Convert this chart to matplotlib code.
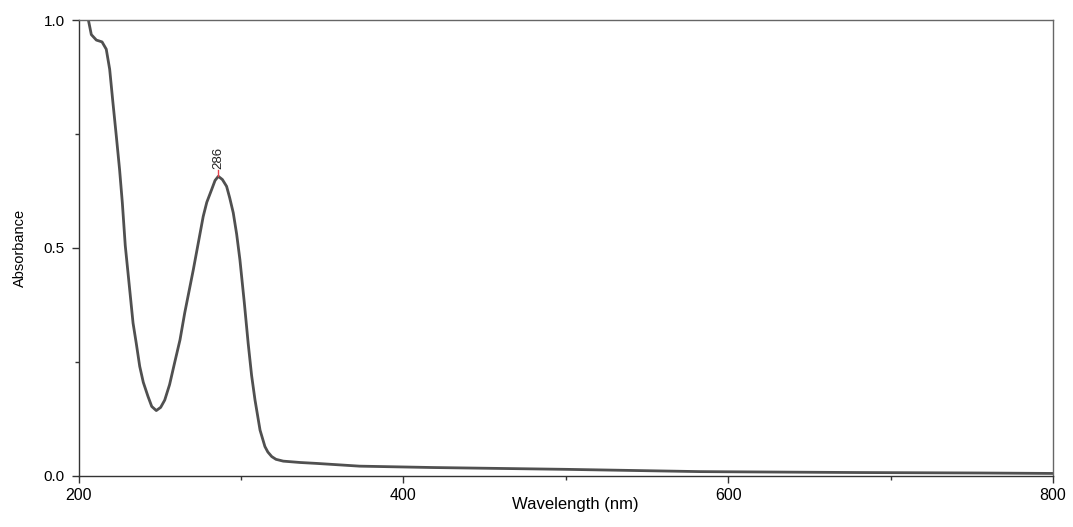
import matplotlib.pyplot as plt
from matplotlib.ticker import MultipleLocator

plt.rcParams['font.family'] = ['Liberation Sans', 'DejaVu Sans']

# wavelength (nm) and absorbance
wavelength = [203, 206, 207.8, 210.9, 214.4, 217, 219.1, 221.1, 223.2, 225.2,
              226.9, 228.7, 230.4, 233.5, 235.5, 237.6, 239.8, 242.7, 245, 247.8,
              250.5, 253, 256, 259.1, 262.4, 265.3, 270.6, 276.7, 278.9, 281.9,
              284, 286, 288.5, 291.1, 293, 295.2, 297.3, 299.3, 302, 304.4,
              306.5, 308.6, 311.7, 314.7, 316.5, 318.9, 321.5, 326, 336.5, 346.6,
              373, 418, 500, 583, 680, 755, 800]
absorbance = [1.06, 1.00, 0.968, 0.956, 0.952, 0.936, 0.892, 0.819, 0.745, 0.672,
              0.599, 0.505, 0.445, 0.335, 0.29, 0.24, 0.205, 0.174, 0.152, 0.143,
              0.150, 0.166, 0.20, 0.248, 0.298, 0.357, 0.452, 0.569, 0.60, 0.628,
              0.648, 0.657, 0.650, 0.635, 0.61, 0.577, 0.53, 0.474, 0.38, 0.29,
              0.22, 0.166, 0.10, 0.064, 0.052, 0.042, 0.036, 0.032, 0.029, 0.027,
              0.021, 0.018, 0.014, 0.009, 0.007, 0.006, 0.005]

peak_wl = 286
peak_abs = 0.657

fig = plt.figure(figsize=(10.73, 5.27), dpi=100)
ax = fig.add_axes([0.0733, 0.0973, 0.9081, 0.8647])

ax.plot(wavelength, absorbance, color='#505050', linewidth=2.0,
        solid_joinstyle='round')

# peak marker
ax.plot([peak_wl, peak_wl], [peak_abs, peak_abs + 0.014], color='#e8404a', linewidth=1)
ax.text(peak_wl, peak_abs + 0.016, str(peak_wl), rotation=90, ha='center', va='bottom',
        fontsize=9.5, color='#222222')

ax.set_xlim(200, 800)
ax.set_ylim(0, 1.0)
ax.xaxis.set_major_locator(MultipleLocator(200))
ax.xaxis.set_minor_locator(MultipleLocator(100))
ax.yaxis.set_major_locator(MultipleLocator(0.5))
ax.yaxis.set_minor_locator(MultipleLocator(0.25))
ax.yaxis.set_major_formatter(plt.FormatStrFormatter('%.1f'))

for s in ax.spines.values():
    s.set_color('#333333')
    s.set_linewidth(1.0)
ax.spines['top'].set_color('#666666')
ax.spines['right'].set_color('#666666')

ax.tick_params(which='major', direction='out', length=5, width=1, color='#333333')
ax.tick_params(axis='x', which='major', labelsize=11.5, pad=4)
ax.tick_params(axis='y', which='major', labelsize=11, pad=5)
ax.tick_params(which='minor', direction='out', length=3, width=1, color='#333333')

ax.set_xlabel('Wavelength (nm)', fontsize=12)
ax.set_ylabel('Absorbance', fontsize=10.5)
ax.xaxis.set_label_coords(0.51, -0.047)
ax.yaxis.set_label_coords(-0.053, 0.5)

plt.savefig('out.png', dpi=100)
